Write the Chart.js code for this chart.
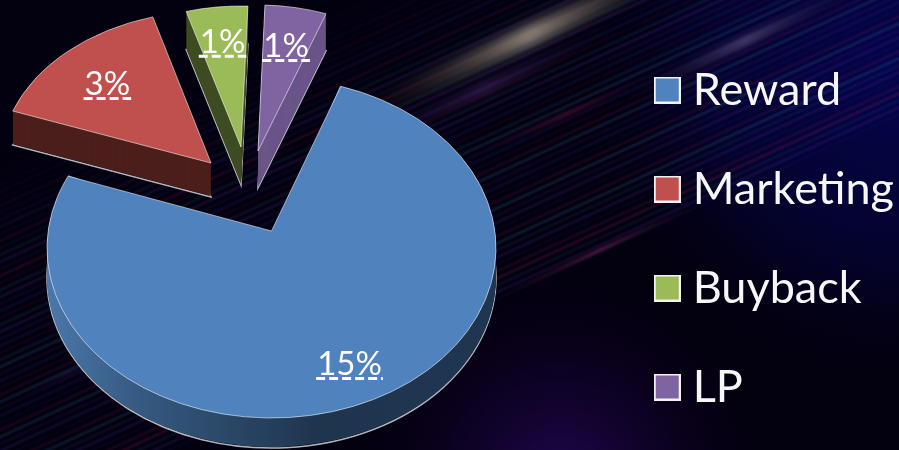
<!DOCTYPE html>
<html><head><meta charset="utf-8">
<style>html,body{margin:0;padding:0;width:899px;height:450px;overflow:hidden;background:#03000f}canvas{display:block}</style>
<script src="https://cdn.jsdelivr.net/npm/chart.js@4/dist/chart.umd.min.js"></script>
</head><body><canvas id="c" width="904" height="477" style="width:904px;height:477px"></canvas>
<script>
// Data
const categories = ['Reward','Marketing','Buyback','LP'];
const shares = [15,3,1,1];
// Colours
const topColors  = ['#5082bd','#c0504d','#9bbb59','#8064a2'];
const sideColors = ['#2a4a6c','#4c1f1c','#3f4d22','#6a5488'];
// 3D look of each exploded slice
const centreX = [271.5,211,241,258];
const centreY = [248,163,147,151];
const radiusX = [224.5,211,199,199];
const radiusY = [170,152,141,146];
const depth   = [30,34,38,37];
const labelAt = [0.76,0.72,0.76,0.74];
const labelTurn = [-3.7,0,0,0];
const rewardTipLift = 17;
const rewardBias = [-2,5];
const MODEL_R = 100;
const FONT = 'Lato, Carlito, sans-serif';
const rad = Math.PI/180;

function legendSwatch(col){
  const s=document.createElement('canvas');s.width=27;s.height=27;
  const g=s.getContext('2d');g.fillStyle='#f2f2f2';g.fillRect(0,0,27,27);g.fillStyle=col;g.fillRect(2,2,23,23);return s;
}
function streak(ctx,x0,y0,x1,y1,w,col,blur){
  const g=ctx.createLinearGradient(x0,y0,x1,y1);
  g.addColorStop(0,'rgba(0,0,0,0)');g.addColorStop(.5,col);g.addColorStop(1,'rgba(0,0,0,0)');
  ctx.save();ctx.filter=blur?`blur(${blur}px)`:'none';ctx.strokeStyle=g;ctx.lineWidth=w;
  ctx.beginPath();ctx.moveTo(x0,y0);ctx.lineTo(x1,y1);ctx.stroke();ctx.restore();
}
const backdrop={id:'backdrop',beforeDraw(chart){
  const ctx=chart.ctx,W=chart.width,H=chart.height;
  ctx.save();
  ctx.fillStyle='#03000f';ctx.fillRect(0,0,W,H);
  let g=ctx.createRadialGradient(899,70,20,899,70,330);
  g.addColorStop(0,'#05044a');g.addColorStop(.55,'#04032c');g.addColorStop(1,'rgba(3,0,15,0)');
  ctx.fillStyle=g;ctx.fillRect(0,0,W,H);
  g=ctx.createRadialGradient(560,480,10,560,480,200);
  g.addColorStop(0,'rgba(35,8,90,.8)');g.addColorStop(1,'rgba(20,0,40,0)');
  ctx.fillStyle=g;ctx.fillRect(0,0,W,H);
  const slope=-0.46, cols=['rgba(40,90,130,A)','rgba(120,30,80,A)','rgba(30,40,120,A)','rgba(70,40,140,A)'];
  let n=0;
  for(let b=150;b<530;b+=7){
    n++;
    const env=Math.min(1,Math.max(0,(b-150)/130))*.68;
    const a=env*(.25+.45*((n*7)%5)/4);
    const c=cols[(n*3+(n>>2))%4].replace('A',a.toFixed(3));
    ctx.save();ctx.filter='blur(.8px)';ctx.strokeStyle=c;ctx.lineWidth=1.7;
    ctx.beginPath();ctx.moveTo(-10,b+10*.46);ctx.lineTo(920,b+slope*920);ctx.stroke();ctx.restore();
  }
  streak(ctx,350,118,710,-48,19,'rgba(160,150,135,.9)',6);
  streak(ctx,330,160,640,17,10,'rgba(100,50,130,.5)',5);
  streak(ctx,620,100,870,-18,9,'rgba(140,120,160,.5)',3);
  streak(ctx,440,170,690,60,4,'rgba(140,30,80,.45)',2);
  streak(ctx,470,310,730,190,3.5,'rgba(140,45,100,.6)',1.5);
  streak(ctx,0,405,140,340,5,'rgba(60,40,110,.3)',2);
  ctx.restore();
}};
function slicePath(ctx,el,i,dy){
  const cy=centreY[i]+dy;
  ctx.beginPath();ctx.moveTo(centreX[i],cy);
  ctx.ellipse(centreX[i],cy,radiusX[i],radiusY[i],0,el.startAngle,el.endAngle);
  ctx.closePath();
}
function rimPoint(i,a){return [centreX[i]+radiusX[i]*Math.cos(a),centreY[i]+radiusY[i]*Math.sin(a)];}
const solid3d={id:'solid3d',
  afterDatasetUpdate(chart,args){
    const meta=chart.getDatasetMeta(args.index);
    meta.data.forEach((el,i)=>{
      if(i===0){el.startAngle+=rewardBias[0]*rad;el.endAngle+=rewardBias[1]*rad;el.circumference=el.endAngle-el.startAngle;}
      const proto=Object.getPrototypeOf(el);
      el.draw=function(ctx){
        ctx.save();
        ctx.translate(centreX[i],centreY[i]);
        ctx.scale(radiusX[i]/this.outerRadius,radiusY[i]/this.outerRadius);
        ctx.translate(-this.x,-this.y);
        proto.draw.call(this,ctx);
        ctx.restore();
      };
    });
  },
  beforeDatasetsDraw(chart){
    const ctx=chart.ctx,arcs=chart.getDatasetMeta(0).data;
    arcs.forEach((el,i)=>{
      let fill=sideColors[i];
      if(i===0){
        const g=ctx.createLinearGradient(47,0,496,0);
        g.addColorStop(0,'#4a78ab');g.addColorStop(.2,'#365a82');g.addColorStop(.6,'#1f354e');g.addColorStop(1,'#1f3652');
        fill=g;
      }
      ctx.save();
      ctx.strokeStyle='rgba(255,255,255,.7)';ctx.lineWidth=1.5;
      slicePath(ctx,el,i,depth[i]);ctx.stroke();
      ctx.fillStyle=fill;
      for(let d=depth[i]-1;d>=1;d--){slicePath(ctx,el,i,d);ctx.fill();}
      ctx.restore();
    });
  },
  afterDatasetsDraw(chart){
    const ctx=chart.ctx,arcs=chart.getDatasetMeta(0).data;
    arcs.forEach((el,i)=>{
      ctx.save();
      ctx.strokeStyle='rgba(255,255,255,.55)';ctx.lineWidth=1;
      if(i===0){
        const A=rimPoint(0,el.startAngle),B=rimPoint(0,el.endAngle),T=[centreX[0],centreY[0]-rewardTipLift];
        ctx.fillStyle=topColors[0];
        ctx.beginPath();ctx.moveTo(centreX[0],centreY[0]);ctx.lineTo(A[0],A[1]);ctx.lineTo(T[0],T[1]);ctx.lineTo(B[0],B[1]);ctx.closePath();ctx.fill();
        ctx.save();ctx.strokeStyle=topColors[0];ctx.lineWidth=2;
        ctx.beginPath();ctx.moveTo(A[0],A[1]);ctx.lineTo(centreX[0],centreY[0]);ctx.lineTo(B[0],B[1]);ctx.stroke();ctx.restore();
        ctx.beginPath();ctx.moveTo(T[0],T[1]);ctx.lineTo(A[0],A[1]);
        ctx.ellipse(centreX[0],centreY[0],radiusX[0],radiusY[0],0,el.startAngle,el.endAngle);
        ctx.closePath();ctx.stroke();
      } else {slicePath(ctx,el,i,0);ctx.stroke();}
      ctx.restore();
    });
    arcs.forEach((el,i)=>{
      const mid=(el.startAngle+el.endAngle)/2+labelTurn[i]*rad;
      const x=centreX[i]+radiusX[i]*labelAt[i]*Math.cos(mid);
      const y=centreY[i]+radiusY[i]*labelAt[i]*Math.sin(mid)+12;
      const t=shares[i]+'%';
      ctx.save();
      ctx.font='33px '+FONT;ctx.fillStyle='#fff';ctx.textAlign='center';ctx.textBaseline='alphabetic';
      ctx.fillText(t,x,y);
      const w=ctx.measureText(t).width;
      ctx.strokeStyle='#fff';ctx.lineWidth=3;ctx.setLineDash([9,4]);
      ctx.beginPath();ctx.moveTo(x-w/2-1,y+3.5);ctx.lineTo(x+w/2+1,y+3.5);ctx.stroke();
      ctx.restore();
    });
  }
};
new Chart(document.getElementById('c'),{
  type:'pie',
  data:{labels:categories,datasets:[{data:shares,backgroundColor:topColors,borderWidth:0,clip:false}]},
  options:{
    responsive:false,animation:false,rotation:20,radius:MODEL_R,
    layout:{padding:0},
    plugins:{tooltip:{enabled:false},
      legend:{position:'right',align:'center',
        labels:{font:{family:FONT,size:45},color:'#f7f7f7',padding:54,boxWidth:6,usePointStyle:true,
          generateLabels(chart){return chart.data.labels.map((t,i)=>({text:t,fillStyle:topColors[i],strokeStyle:'#fff',lineWidth:0,pointStyle:legendSwatch(topColors[i]),index:i,fontColor:'#f7f7f7'}));}
        }}}
  },
  plugins:[backdrop,solid3d]
});
</script></body></html>
